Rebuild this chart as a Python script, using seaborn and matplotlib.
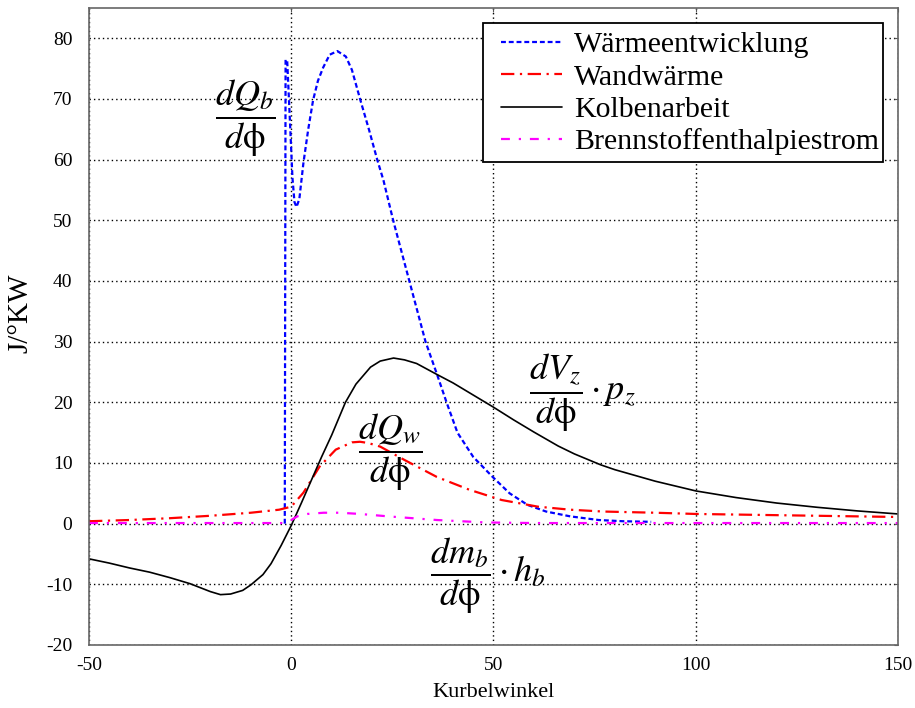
import numpy as np
import pandas as pd
import matplotlib
matplotlib.use("Agg")
import matplotlib.pyplot as plt
from matplotlib.patches import Rectangle
import seaborn as sns

# ---- data ----
kolben_x = [-50, -45, -40, -35, -30, -25, -20, -17.5, -15, -12, -10, -7, -5, -2.5, 0, 2.5, 5, 7.5, 10, 13.4,
            16, 19.6, 22, 25.3, 28, 31, 36, 40, 45, 50, 55, 60, 66, 70, 76.5, 80, 90, 100, 110, 120, 130, 140, 150]
kolben_y = [-5.8, -6.5, -7.3, -8.0, -8.9, -9.9, -11.2, -11.7, -11.6, -11.0, -10.1, -8.4, -6.6, -3.6, -0.3, 3.4, 7.2,
            11.0, 14.6, 20.0, 23.0, 25.8, 26.8, 27.3, 27.0, 26.4, 24.6, 23.2, 21.2, 19.2, 17.1, 15.1, 12.8, 11.5, 9.7,
            8.9, 7.0, 5.4, 4.3, 3.4, 2.7, 2.1, 1.6]

waerme_x = [-1.6, -1.4, -1.0, -0.3, 0.3, 0.8, 1.3, 2.0, 3.0, 4.2, 5.4, 6.6, 7.9, 9.5, 11.4, 13.5, 15.0, 17.1,
            19.2, 21.3, 22.8, 25.2, 27.2, 29.2, 31.2, 33.2, 36.1, 38.4, 41.1, 45.0, 49.8, 54.0, 58.4, 63.0, 69.0,
            76.0, 82.0, 89.0]
waerme_y = [0.0, 76.5, 76.3, 66.0, 57.0, 53.0, 52.2, 53.5, 59.4, 65.0, 69.8, 73.0, 75.2, 77.3, 77.9, 77.0, 74.8,
            69.8, 65.0, 59.9, 56.6, 50.0, 45.0, 40.0, 35.0, 30.0, 24.5, 20.0, 15.0, 11.0, 7.7, 5.0, 3.1, 2.0, 1.2,
            0.6, 0.4, 0.3]

wand_x = [-50, -40, -30, -20, -10, -3, 0, 3, 7, 11, 15, 17, 19, 22, 28, 36, 44, 52, 61, 69, 77, 90, 100, 125, 150]
wand_y = [0.4, 0.6, 0.9, 1.3, 1.8, 2.3, 2.8, 5.1, 9.4, 12.2, 13.4, 13.5, 13.3, 12.7, 10.5, 7.7, 5.6, 3.9, 2.8,
          2.3, 2.0, 1.8, 1.6, 1.35, 1.1]

brenn_x = [-50, -20, -2, 0, 1.5, 4, 8, 12, 17, 24, 30, 36, 42, 48, 60, 100, 150]
brenn_y = [0.1, 0.1, 0.1, 0.6, 1.2, 1.6, 1.8, 1.8, 1.6, 1.2, 0.9, 0.6, 0.4, 0.2, 0.1, 0.1, 0.1]

labels = ["Wärmeentwicklung", "Wandwärme", "Kolbenarbeit", "Brennstoffenthalpiestrom"]
x_ticks = [-50, 0, 50, 100, 150]
y_ticks = [-20, -10, 0, 10, 20, 30, 40, 50, 60, 70, 80]

sns.set_style("white")
plt.rcParams["font.family"] = ["Liberation Serif", "DejaVu Serif"]
plt.rcParams["mathtext.fontset"] = "stix"
plt.rcParams["text.color"] = "black"
plt.rcParams["axes.labelcolor"] = "black"
plt.rcParams["xtick.labelcolor"] = "black"
plt.rcParams["ytick.labelcolor"] = "black"

fig = plt.figure(figsize=(9.15, 7.08), dpi=100)
ax = fig.add_axes([0.0973, 0.089, 0.884, 0.8997])

d1 = pd.DataFrame({"x": waerme_x, "y": waerme_y})
d2 = pd.DataFrame({"x": wand_x, "y": wand_y})
d3 = pd.DataFrame({"x": kolben_x, "y": kolben_y})
d4 = pd.DataFrame({"x": brenn_x, "y": brenn_y})

sns.lineplot(data=d1, x="x", y="y", ax=ax, color="#0000ff", linewidth=1.6,
             linestyle=(0, (2.2, 1.3)), label=labels[0], sort=False, errorbar=None)
sns.lineplot(data=d2, x="x", y="y", ax=ax, color="#ff0000", linewidth=1.6,
             linestyle=(0, (6, 2.5, 1, 2.5)), label=labels[1], sort=False, errorbar=None)
sns.lineplot(data=d3, x="x", y="y", ax=ax, color="black", linewidth=1.2,
             linestyle="-", label=labels[2], sort=False, errorbar=None)
sns.lineplot(data=d4, x="x", y="y", ax=ax, color="#ff00ff", linewidth=1.6,
             linestyle=(0, (4, 4, 1, 4)), label=labels[3], sort=False, errorbar=None)

ax.set_xlim(-50, 150)
ax.set_ylim(-20, 85)
ax.set_xticks(x_ticks)
ax.set_yticks(y_ticks)
ax.set_xticklabels([str(t) for t in x_ticks])
ax.set_yticklabels([str(t) for t in y_ticks])
ax.grid(True, color="black", linestyle=(0, (1, 2.2)), linewidth=1.0)
ax.tick_params(axis="both", direction="in", length=3, labelsize=14, top=True, right=True, colors="#555555",
               labelcolor="black")
ax.tick_params(axis="y", pad=12)
ax.tick_params(axis="x", pad=9)
for s in ax.spines.values():
    s.set_color("#666666")
    s.set_linewidth(1.2)

ax.set_xlabel("Kurbelwinkel", fontsize=16, labelpad=6)
ax.set_ylabel("J/°KW", fontsize=21)
ax.yaxis.set_label_coords(-0.069, 0.521)

# legend: entries without frame, frame drawn as separate box (MATLAB-like padding)
leg = ax.legend(loc="upper right", bbox_to_anchor=(0.977, 0.963), fontsize=21.5, frameon=False,
                labelspacing=0.18, handlelength=2.05, handletextpad=0.42,
                borderpad=0.0, borderaxespad=0.0)
for t in leg.get_texts():
    t.set_color("black")
ax.add_patch(Rectangle((0.487, 0.758), 0.4945, 0.2185, transform=ax.transAxes, facecolor="white",
                       edgecolor="black", linewidth=1.3, zorder=4.5))
leg.set_zorder(5)

ax.text(-11.4, 66.8, r"$\dfrac{dQ_b}{d\mathrm{\phi}}$", fontsize=26, ha="center", va="center")
ax.text(24.5, 11.7, r"$\dfrac{dQ_w}{d\mathrm{\phi}}$", fontsize=26, ha="center", va="center")
ax.text(58.7, 21.6, r"$\dfrac{dV_z}{d\mathrm{\phi}}\cdot p_z$", fontsize=26, ha="left", va="center")
ax.text(34.2, -8.6, r"$\dfrac{dm_b}{d\mathrm{\phi}}\cdot h_b$", fontsize=26, ha="left", va="center")

fig.savefig("out.png", dpi=100)
